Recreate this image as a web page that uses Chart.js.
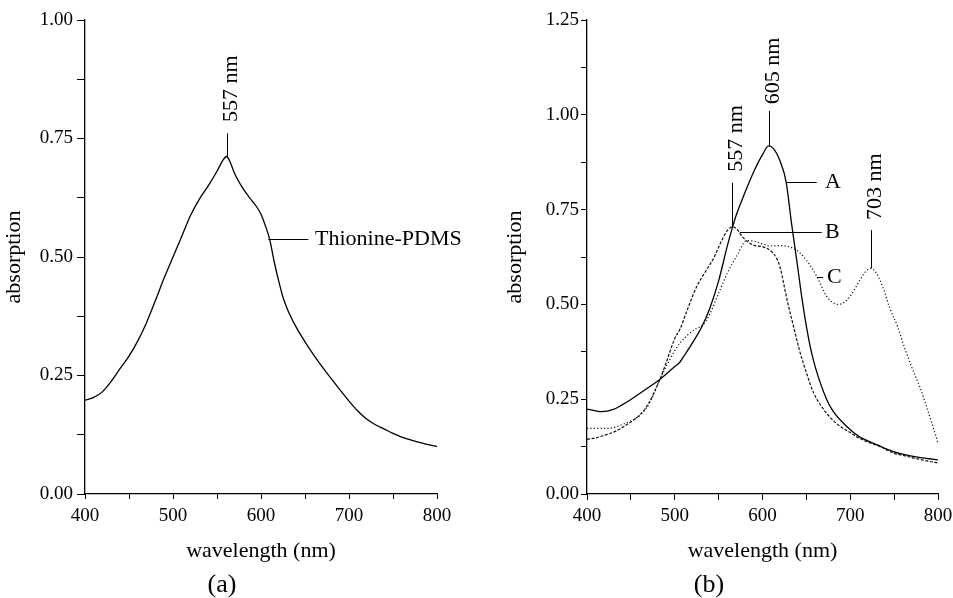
<!DOCTYPE html>
<html>
<head>
<meta charset="utf-8">
<script src="https://cdn.jsdelivr.net/npm/chart.js@4"></script>
<style>
  html, body { margin:0; padding:0; background:#fff; }
  #wrap { position:relative; width:953px; height:598px; overflow:hidden; }
  #c1 { position:absolute; left:0; top:0; }
  #c2 { position:absolute; left:476px; top:0; }
</style>
</head>
<body>
<div id="wrap">
  <canvas id="c1" width="476" height="598"></canvas>
  <canvas id="c2" width="477" height="598"></canvas>
</div>
<script>
// ---------- Panel (a): Thionine-PDMS ----------
const wavelengthPDMS = [400,410,420,430,440,450,460,470,480,490,500,510,520,530,540,550,557,561,565,570,580,590,595,600,605,610,615,620,625,630,640,650,660,670,680,690,700,710,720,730,740,750,760,770,780,790,800];
const absorptionPDMS = [0.198,0.204,0.216,0.238,0.265,0.291,0.323,0.362,0.408,0.456,0.500,0.544,0.588,0.622,0.650,0.681,0.705,0.712,0.700,0.676,0.643,0.618,0.606,0.590,0.566,0.536,0.490,0.450,0.415,0.390,0.352,0.321,0.293,0.267,0.243,0.219,0.196,0.175,0.158,0.146,0.137,0.128,0.120,0.114,0.109,0.104,0.100];

// ---------- Panel (b): curves A, B, C ----------
const wavelengthA = [400,410,417,430,440,450,460,470,483,490,500,506,510,520,530,540,550,560,566,570,580,590,600,607,612,620,627,633,640,645,650,655,660,673,680,696,711,720,730,749,760,770,780,790,800];
const absorptionA = [0.224,0.219,0.217,0.223,0.235,0.249,0.265,0.281,0.302,0.316,0.336,0.348,0.362,0.398,0.437,0.490,0.562,0.655,0.705,0.735,0.795,0.850,0.895,0.918,0.912,0.878,0.822,0.715,0.600,0.515,0.442,0.382,0.336,0.250,0.220,0.178,0.150,0.140,0.130,0.112,0.105,0.100,0.096,0.093,0.090];

const wavelengthB = [400,410,420,430,440,450,460,470,483,490,500,506,515,525,536,545,552,560,566,572,578,589,600,605,610,616,620,628,635,642,650,658,670,680,690,700,707,720,735,749,760,770,780,790,800];
const absorptionB = [0.144,0.148,0.155,0.163,0.175,0.190,0.208,0.238,0.302,0.345,0.410,0.435,0.490,0.547,0.590,0.625,0.661,0.695,0.705,0.695,0.676,0.657,0.652,0.648,0.640,0.622,0.598,0.512,0.445,0.380,0.320,0.268,0.222,0.195,0.176,0.162,0.151,0.137,0.124,0.108,0.102,0.096,0.091,0.086,0.082];

const wavelengthC = [400,410,420,430,440,450,460,470,483,490,500,506,515,525,532,540,551,560,570,582,590,597,610,620,635,643,650,656,662,673,680,686,693,700,711,717,723,729,737,745,754,762,770,780,787,794,800];
const absorptionC = [0.173,0.173,0.173,0.175,0.183,0.193,0.207,0.235,0.302,0.335,0.378,0.398,0.420,0.437,0.445,0.475,0.535,0.583,0.625,0.668,0.667,0.662,0.654,0.655,0.648,0.635,0.617,0.597,0.573,0.522,0.505,0.500,0.505,0.522,0.564,0.585,0.595,0.585,0.547,0.490,0.441,0.385,0.335,0.278,0.230,0.180,0.134];

// ---------- Axis ticks ----------
const xTickLabels = [400,500,600,700,800];
const yTickLabelsA = [0.00,0.25,0.50,0.75,1.00];
const yTickLabelsB = [0.00,0.25,0.50,0.75,1.00,1.25];

// ---------- Annotations (data coordinates) ----------
const peakNotesA = [ {text:'557 nm', wl:561, from:0.712, to:0.761, textAt:0.785} ];
const leaderNotesA = [ {text:'Thionine-PDMS', wl0:608.3, wl1:653.8, abs:0.537, textWl:661.4} ];
const peakNotesB = [
  {text:'605 nm', wl:607, from:0.918, to:1.010, textAt:1.028},
  {text:'557 nm', wl:564.9, from:0.705, to:0.821, textAt:0.850},
  {text:'703 nm', wl:723.3, from:0.595, to:0.696, textAt:0.7226}
];
const leaderNotesB = [
  {text:'A', wl0:626.8, wl1:661.8, abs:0.824, textWl:671.2},
  {text:'B', wl0:574.4, wl1:667.5, abs:0.692, textWl:671.2},
  {text:'C', wl0:662.1, wl1:669.0, abs:0.573, textWl:673.5}
];

const SERIF = "'Liberation Serif', 'Times New Roman', Times, serif";
Chart.defaults.font.family = SERIF;
Chart.defaults.color = '#000';

function pts(xs, ys) { return xs.map((x, i) => ({x: x, y: ys[i]})); }

function makeNotes(peaks, leaders, caption) {
  return {
    id: 'notes',
    afterDatasetsDraw(chart) {
      const ctx = chart.ctx, xs = chart.scales.x, ys = chart.scales.y;
      ctx.save();
      ctx.strokeStyle = '#000';
      ctx.fillStyle = '#000';
      ctx.lineWidth = 1;
      ctx.font = '22px ' + SERIF;
      peaks.forEach(p => {
        const px = Math.round(xs.getPixelForValue(p.wl)) + 0.5;
        ctx.beginPath();
        ctx.moveTo(px, ys.getPixelForValue(p.from));
        ctx.lineTo(px, ys.getPixelForValue(p.to));
        ctx.stroke();
        ctx.save();
        ctx.translate(px + 4, ys.getPixelForValue(p.textAt));
        ctx.rotate(-Math.PI / 2);
        ctx.textAlign = 'left';
        ctx.textBaseline = 'middle';
        ctx.fillText(p.text, 0, 0);
        ctx.restore();
      });
      leaders.forEach(l => {
        const py = Math.round(ys.getPixelForValue(l.abs)) + 0.5;
        ctx.beginPath();
        ctx.moveTo(xs.getPixelForValue(l.wl0), py);
        ctx.lineTo(xs.getPixelForValue(l.wl1), py);
        ctx.stroke();
        ctx.textAlign = 'left';
        ctx.textBaseline = 'middle';
        ctx.fillText(l.text, xs.getPixelForValue(l.textWl), py);
      });
      ctx.font = '26px ' + SERIF;
      ctx.textAlign = 'center';
      ctx.textBaseline = 'middle';
      ctx.fillText(caption.text, caption.x, caption.y);
      ctx.restore();
    }
  };
}

function makeChart(canvasId, datasets, yMax, yLabels, cfg) {
  return new Chart(document.getElementById(canvasId), {
    type: 'line',
    data: { datasets: datasets },
    options: {
      responsive: false,
      animation: false,
      devicePixelRatio: 1,
      layout: { padding: { top: 20, right: cfg.padRight, bottom: 0, left: 0 } },
      plugins: { legend: { display: false }, tooltip: { enabled: false } },
      elements: { point: { radius: 0 }, line: { cubicInterpolationMode: 'monotone', borderColor: '#000', fill: false } },
      scales: {
        x: {
          type: 'linear', min: 400, max: 800,
          afterFit: s => { s.height = 104; s.paddingLeft = 0; s.paddingRight = 0; },
          border: { display: true, color: '#000', width: 1.3 },
          grid: { drawOnChartArea: false, drawTicks: true, tickLength: cfg.xTick, color: '#000', lineWidth: 1 },
          ticks: {
            stepSize: 50, autoSkip: false, maxRotation: 0, padding: cfg.xPad,
            font: { size: 19 }, color: '#000',
            callback: v => xTickLabels.includes(v) ? String(v) : ''
          },
          title: { display: true, text: 'wavelength (nm)', font: { size: 22 }, color: '#000', padding: { top: 0, bottom: 34 } }
        },
        y: {
          type: 'linear', min: 0, max: yMax,
          afterFit: s => { s.width = cfg.yWidth; s.paddingTop = 0; s.paddingBottom = 0; },
          border: { display: true, color: '#000', width: 1.3 },
          grid: { drawOnChartArea: false, drawTicks: true, tickLength: cfg.yTick, color: '#000', lineWidth: 1 },
          ticks: {
            stepSize: 0.125, autoSkip: false, padding: cfg.yPad,
            font: { size: 19 }, color: '#000',
            callback: v => yLabels.some(t => Math.abs(t - v) < 1e-6) ? v.toFixed(2) : ''
          },
          title: { display: true, text: 'absorption', font: { size: 22 }, color: '#000', padding: { top: cfg.yTitlePad, bottom: 0 } }
        }
      }
    },
    plugins: [makeNotes(cfg.peaks, cfg.leaders, cfg.caption)]
  });
}

makeChart('c1', [
  { label: 'Thionine-PDMS', data: pts(wavelengthPDMS, absorptionPDMS), borderColor: '#000', borderWidth: 1.3 }
], 1.0, yTickLabelsA, {
  padRight: 39, yWidth: 85, yTick: 8, yPad: 4, xTick: 5, xPad: 6, yTitlePad: 1.5,
  peaks: peakNotesA, leaders: leaderNotesA, caption: { text: '(a)', x: 222, y: 585 }
});

makeChart('c2', [
  { label: 'A', data: pts(wavelengthA, absorptionA), borderColor: '#000', borderWidth: 1.3 },
  { label: 'B', data: pts(wavelengthB, absorptionB), borderColor: '#111', borderWidth: 1.2, borderDash: [3, 1.6] },
  { label: 'C', data: pts(wavelengthC, absorptionC), borderColor: '#111', borderWidth: 1.2, borderDash: [1.2, 2.2] }
], 1.25, yTickLabelsB, {
  padRight: 15, yWidth: 111, yTick: 6, yPad: 2, xTick: 6, xPad: 5, yTitlePad: 26,
  peaks: peakNotesB, leaders: leaderNotesB, caption: { text: '(b)', x: 233, y: 585 }
});
</script>
</body>
</html>
